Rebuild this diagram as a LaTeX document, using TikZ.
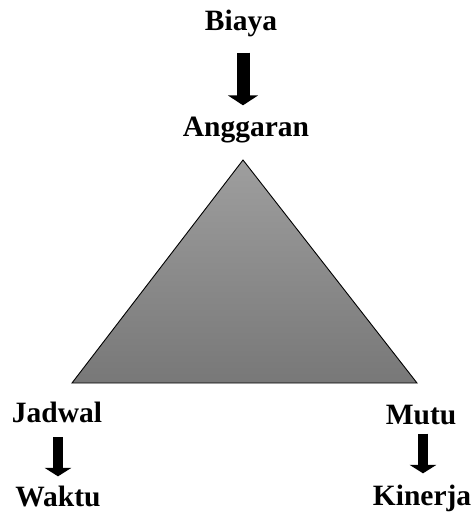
\documentclass[tikz,border=0pt]{standalone}
\usepackage{fontspec}
\setmainfont{Liberation Serif}
\usetikzlibrary{arrows.meta}

\begin{document}
\begin{tikzpicture}[x=1bp, y=-1bp,
		label/.style={inner sep=0pt, anchor=base, font=\fontsize{29.5bp}{34bp}\selectfont\bfseries},
		bigarrow/.style={line width=13bp, -{Triangle[width=30bp, length=10bp]}},
		smallarrow/.style={line width=10.5bp, -{Triangle[width=26.5bp, length=8.5bp]}}]
		\useasboundingbox (0, 0) rectangle (476, 513);
		% triangle
		\coordinate (top) at (243, 160);
		\coordinate (left) at (72, 383);
		\coordinate (right) at (417, 383);
		\draw [line width=0.9bp, top color=black!38, bottom color=black!53] (top) -- (left) -- (right) -- cycle;
		% labels
		\node [label] (biaya) at (241, 31) {Biaya};
		\node [label] (anggaran) at (246, 137) {Anggaran};
		\node [label] (jadwal) at (57, 422) {Jadwal};
		\node [label] (waktu) at (58, 506) {Waktu};
		\node [label] (mutu) at (421, 424) {Mutu};
		\node [label] (kinerja) at (422, 505) {Kinerja};
		% arrows
		\draw [bigarrow, shorten <=15bp, shorten >=12bp] (biaya.south -| 243, 0) -- (anggaran.north -| 243, 0);
		\draw [smallarrow, shorten <=15bp, shorten >=9bp] (jadwal.south -| 58, 0) -- (waktu.north -| 58, 0);
		\draw [smallarrow, shorten <=9bp, shorten >=11bp] (mutu.south -| 423, 0) -- (kinerja.north -| 423, 0);
	\end{tikzpicture}
\end{document}
